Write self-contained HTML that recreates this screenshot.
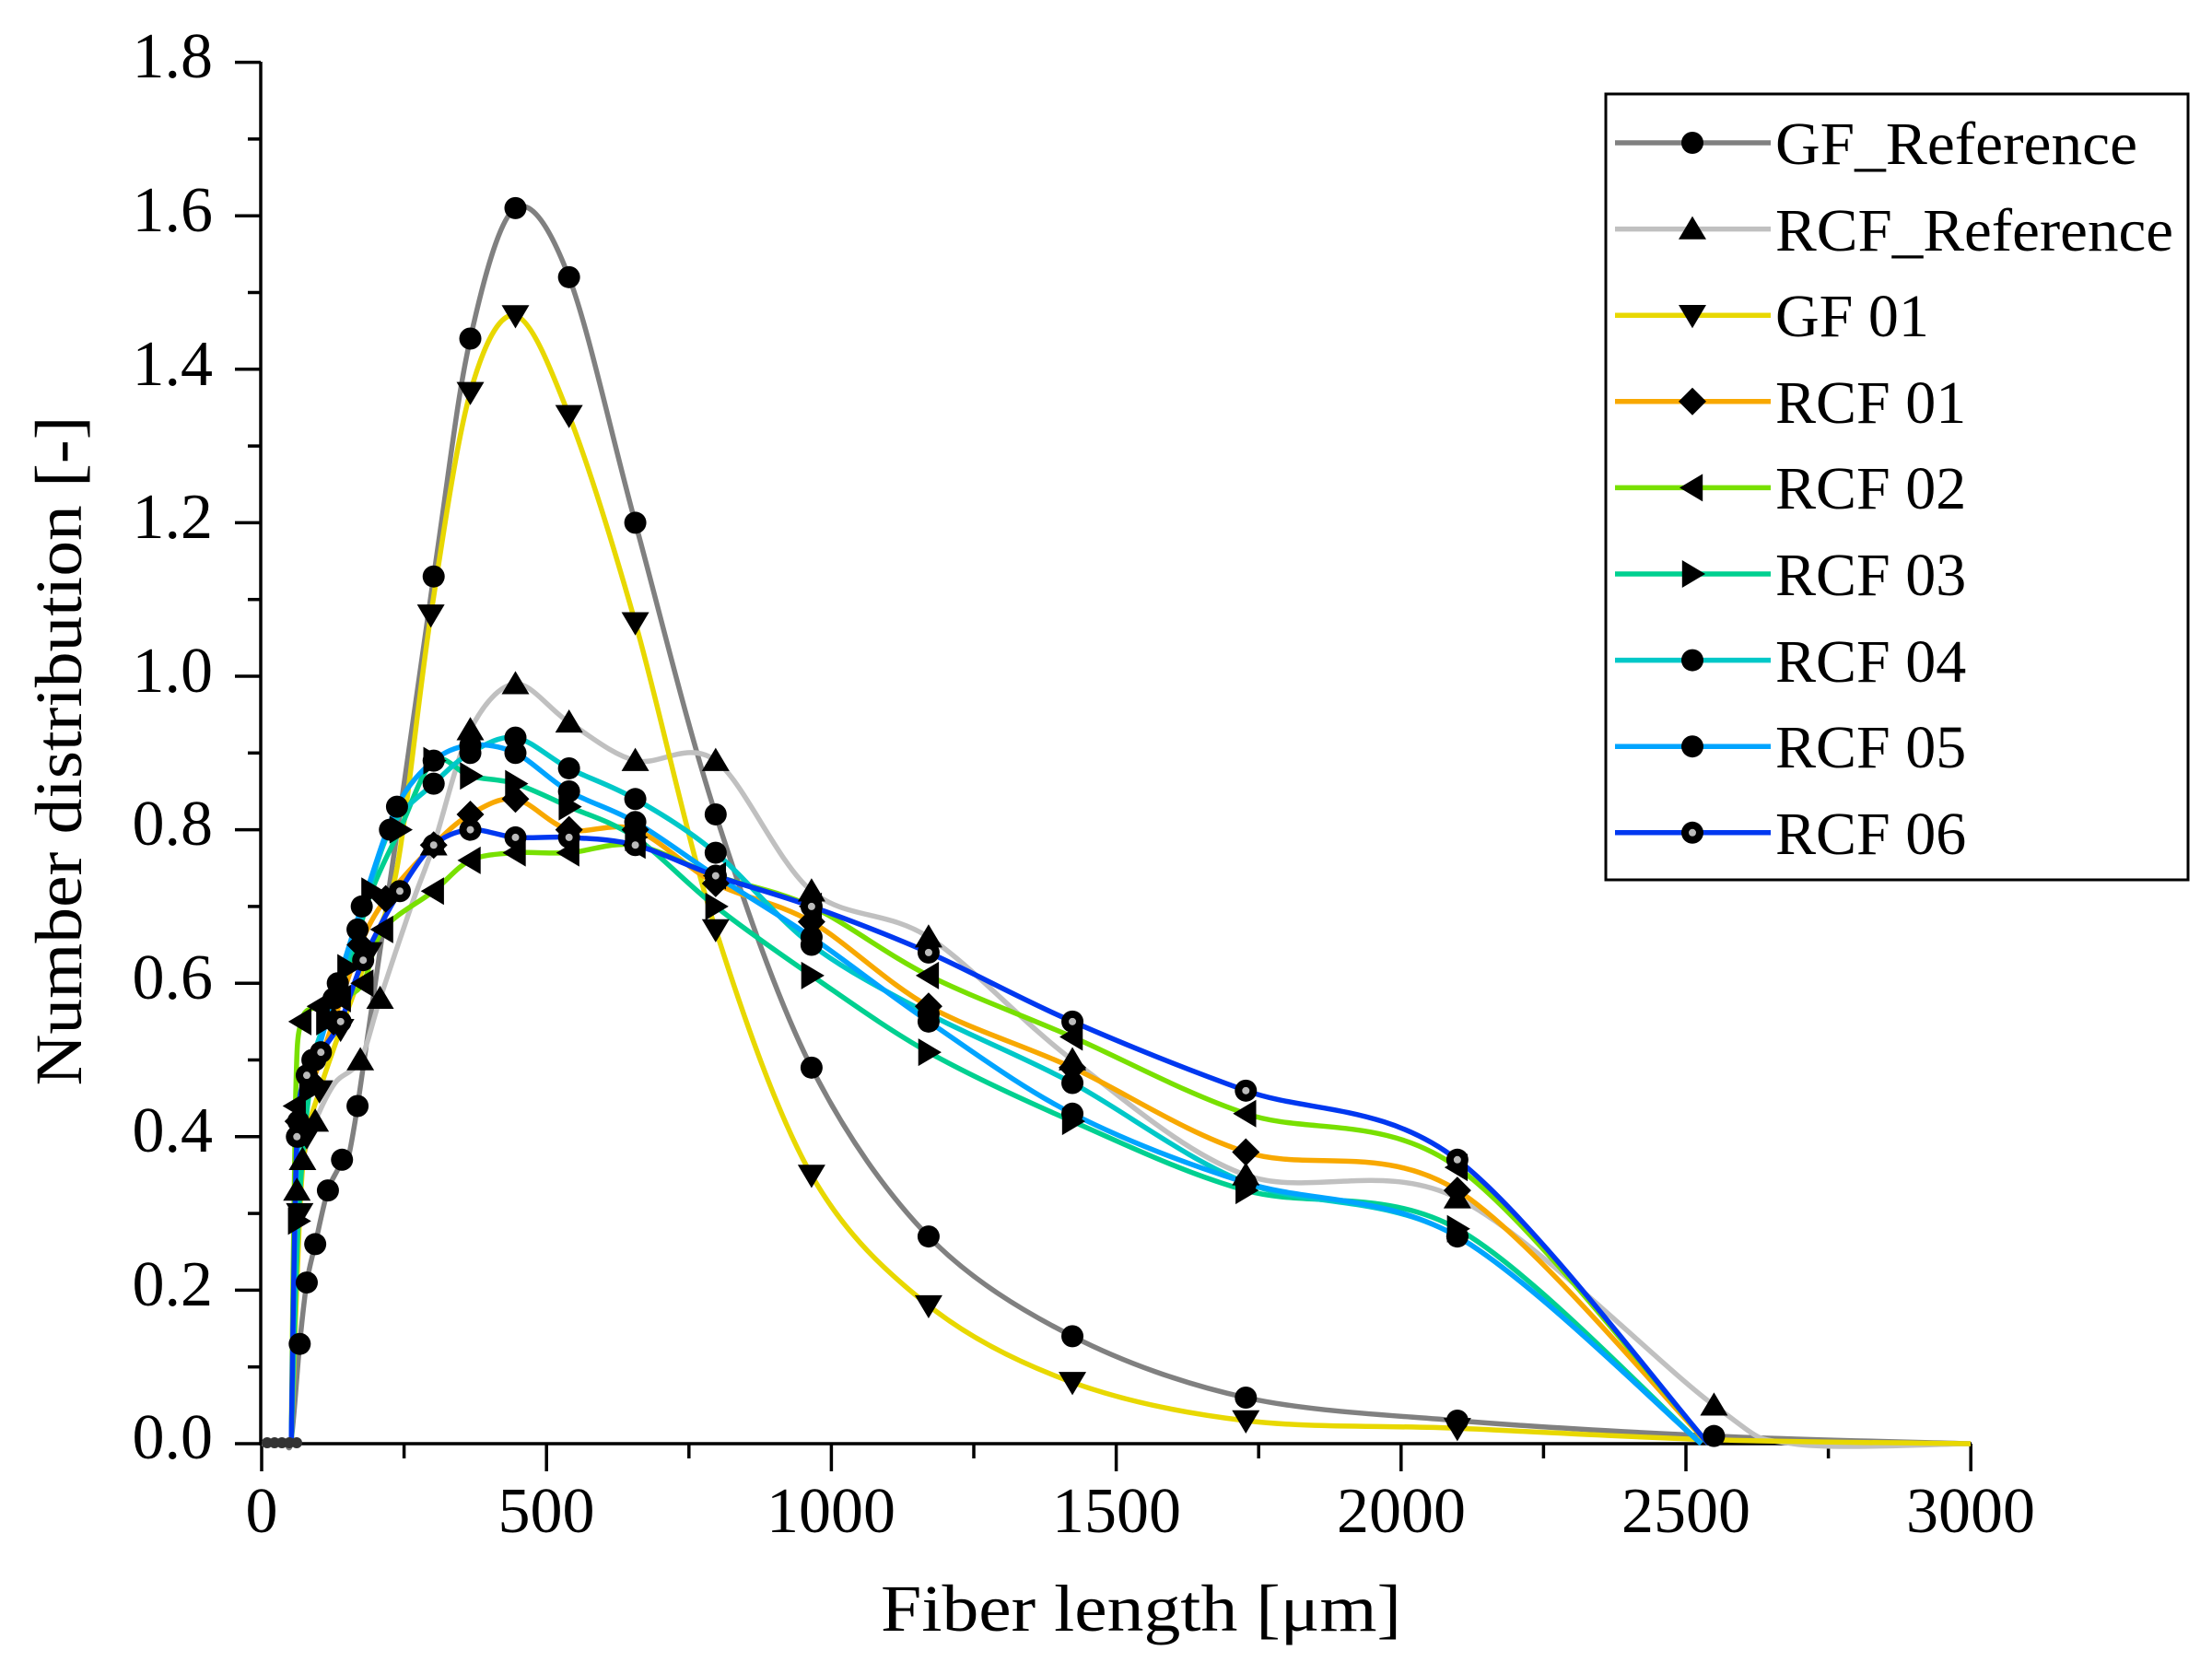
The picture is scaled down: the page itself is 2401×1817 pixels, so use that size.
<!DOCTYPE html>
<html><head><meta charset="utf-8">
<style>
html,body{margin:0;padding:0;background:#fff;}
svg{display:block;}
text{font-family:"Liberation Serif",serif;fill:#000;}
</style></head>
<body>
<svg id="s" width="2401" height="1817" viewBox="0 0 2401 1817" xmlns="http://www.w3.org/2000/svg">
<rect width="2401" height="1817" fill="#fff"/>
<g id="axes" stroke="#000" stroke-width="3.5" fill="none">
<line x1="283" y1="67" x2="283" y2="1567"/>
<line x1="281" y1="1567" x2="2140" y2="1567"/>
</g>
<g id="ticks" stroke="#000" stroke-width="3.5"></g>
<g id="series"></g>
<g font-size="70" text-anchor="end">
<text x="231" y="1583">0.0</text>
<text x="231" y="1417">0.2</text>
<text x="231" y="1250">0.4</text>
<text x="231" y="1084">0.6</text>
<text x="231" y="917">0.8</text>
<text x="231" y="751">1.0</text>
<text x="231" y="584">1.2</text>
<text x="231" y="418">1.4</text>
<text x="231" y="251">1.6</text>
<text x="231" y="84">1.8</text>
</g>
<g font-size="70" text-anchor="middle">
<text x="284" y="1663">0</text>
<text x="593" y="1663">500</text>
<text x="902" y="1663">1000</text>
<text x="1212" y="1663">1500</text>
<text x="1521" y="1663">2000</text>
<text x="1830" y="1663">2500</text>
<text x="2139" y="1663">3000</text>
</g>
<text x="956" y="1770" font-size="72" textLength="565" lengthAdjust="spacingAndGlyphs">Fiber length  [μm]</text>
<text transform="translate(88,815) rotate(-90)" font-size="72" text-anchor="middle" textLength="727" lengthAdjust="spacingAndGlyphs">Number distribution [-]</text>
<rect x="1743" y="102" width="632" height="853" fill="#fff" stroke="#000" stroke-width="3"/>
<g id="legend"></g>
<g font-size="66">
<text x="1927" y="178" textLength="393" lengthAdjust="spacingAndGlyphs">GF_Reference</text>
<text x="1927" y="272" textLength="432" lengthAdjust="spacingAndGlyphs">RCF_Reference</text>
<text x="1927" y="365">GF 01</text>
<text x="1927" y="459">RCF 01</text>
<text x="1927" y="552">RCF 02</text>
<text x="1927" y="646">RCF 03</text>
<text x="1927" y="740">RCF 04</text>
<text x="1927" y="833">RCF 05</text>
<text x="1927" y="927">RCF 06</text>
</g>
</svg>
<script>
(function(){
var NS="http://www.w3.org/2000/svg";
function el(t,a,p){var e=document.createElementNS(NS,t);for(var k in a)e.setAttribute(k,a[k]);p.appendChild(e);return e;}
var tk=document.getElementById("ticks");
for(var i=0;i<=18;i++){var y=1567-i*83.3;var L=(i%2==0)?28:14;el("line",{x1:283-L,y1:y,x2:283,y2:y},tk);}
for(var i=0;i<=12;i++){var x=284+i*154.6;var L=(i%2==0)?30:16;el("line",{x1:x,y1:1567,x2:x,y2:1567+L},tk);}
function X(xd){return 284+(xd-184)*1.5305;}
function Y(v){return 1567-v*833;}
var S=[
{c:"#808080",m:"c",p:[[184,0],[200,0],[205,0.005],[211,0.13],[216,0.21],[222,0.26],[231,0.33],[241,0.37],[252,0.44],[306,1.13],[332,1.44],[364,1.61],[402,1.52],[449,1.2],[506,0.82],[574,0.49],[657,0.27],[759,0.14],[882,0.06],[1032,0.03],[1214,0.01],[1396,0.0]],mk:[3,4,5,6,7,8,9,10,11,12,13,14,15,16,17,18,19,20]},
{c:"#c0c0c0",m:"t",p:[[205,0],[209,0.33],[213,0.37],[222,0.42],[236,0.47],[254,0.5],[268,0.58],[290,0.7],[306,0.78],[332,0.93],[364,0.99],[402,0.94],[449,0.89],[506,0.89],[574,0.72],[657,0.66],[759,0.5],[882,0.35],[1032,0.32],[1214,0.05],[1270,0.0],[1396,0.0]],mk:[1,2,3,5,6,8,9,10,11,12,13,14,15,16,17,18,19]},
{c:"#e8d800",m:"v",p:[[205,0],[211,0.3],[216,0.4],[225,0.46],[240,0.54],[260,0.64],[280,0.75],[304,1.08],[332,1.37],[364,1.47],[402,1.34],[449,1.07],[506,0.67],[574,0.35],[657,0.18],[759,0.08],[882,0.03],[1032,0.02],[1214,0.005],[1396,0.0]],mk:[1,2,3,4,5,7,8,9,10,11,12,13,14,15,16,17]},
{c:"#f8a800",m:"d",p:[[205,0],[210,0.42],[220,0.47],[235,0.55],[254,0.65],[272,0.71],[306,0.78],[332,0.82],[364,0.84],[402,0.8],[449,0.8],[506,0.73],[574,0.68],[657,0.57],[759,0.49],[882,0.38],[1032,0.33],[1210,0.0]],mk:[1,2,3,4,5,6,7,8,9,10,11,12,13,14,15,16]},
{c:"#78e000",m:"l",p:[[205,0],[208,0.44],[212,0.55],[225,0.57],[240,0.58],[256,0.6],[270,0.67],[306,0.72],[332,0.76],[364,0.77],[402,0.77],[449,0.78],[506,0.74],[574,0.7],[657,0.61],[759,0.53],[882,0.43],[1032,0.36],[1210,0.0]],mk:[1,2,3,4,5,6,7,8,9,10,11,12,13,14,15,16,17]},
{c:"#00d090",m:"r",p:[[205,0],[210,0.29],[218,0.46],[230,0.55],[245,0.62],[262,0.72],[282,0.8],[306,0.89],[332,0.87],[364,0.86],[402,0.83],[449,0.79],[506,0.7],[574,0.61],[657,0.51],[759,0.42],[882,0.33],[1032,0.28],[1205,0.0]],mk:[1,2,3,4,5,6,7,8,9,10,11,12,13,14,15,16,17]},
{c:"#00c8c8",m:"c",p:[[205,0],[210,0.4],[220,0.5],[235,0.58],[252,0.67],[275,0.8],[306,0.86],[332,0.9],[364,0.92],[402,0.88],[449,0.84],[506,0.77],[574,0.65],[657,0.56],[759,0.47],[882,0.34],[1032,0.27],[1205,0.0]],mk:[1,2,3,4,5,6,7,8,9,10,11,12,13,14,15,16]},
{c:"#00a4ff",m:"c",p:[[205,0],[210,0.42],[222,0.5],[238,0.6],[255,0.7],[280,0.83],[306,0.89],[332,0.91],[364,0.9],[402,0.85],[449,0.81],[506,0.74],[574,0.66],[657,0.55],[759,0.43],[882,0.34],[1032,0.27],[1205,0.0]],mk:[1,2,3,4,5,6,7,8,9,10,11,12,13,14,15,16]},
{c:"#0038f0",m:"g",p:[[205,0],[209,0.4],[216,0.48],[226,0.51],[240,0.55],[256,0.63],[282,0.72],[306,0.78],[332,0.8],[364,0.79],[402,0.79],[449,0.78],[506,0.74],[574,0.7],[657,0.64],[759,0.55],[882,0.46],[1032,0.37],[1210,0.0]],mk:[1,2,3,4,5,6,7,8,9,10,11,12,13,14,15,16,17]}
];
function path(pts){
var d="M"+pts[0][0]+","+pts[0][1];
for(var i=0;i<pts.length-1;i++){
var p0=pts[Math.max(0,i-1)],p1=pts[i],p2=pts[i+1],p3=pts[Math.min(pts.length-1,i+2)];
var t=0.16;
var c1x=p1[0]+(p2[0]-p0[0])*t,c1y=p1[1]+(p2[1]-p0[1])*t;
var c2x=p2[0]-(p3[0]-p1[0])*t,c2y=p2[1]-(p3[1]-p1[1])*t;
d+="C"+c1x.toFixed(1)+","+c1y.toFixed(1)+" "+c2x.toFixed(1)+","+c2y.toFixed(1)+" "+p2[0].toFixed(1)+","+p2[1].toFixed(1);}
return d;}
function marker(m,x,y,g){
var r=14;
if(m=="c"){el("circle",{cx:x,cy:y,r:12,fill:"#000"},g);}
else if(m=="g"){el("circle",{cx:x,cy:y,r:12,fill:"#000"},g);el("circle",{cx:x,cy:y,r:4,fill:"#bbb"},g);}
else if(m=="t"){el("polygon",{points:(x)+","+(y-r)+" "+(x+r+1)+","+(y+r*0.8)+" "+(x-r-1)+","+(y+r*0.8),fill:"#000"},g);}
else if(m=="v"){el("polygon",{points:(x)+","+(y+r)+" "+(x+r+1)+","+(y-r*0.8)+" "+(x-r-1)+","+(y-r*0.8),fill:"#000"},g);}
else if(m=="d"){el("polygon",{points:x+","+(y-r-1)+" "+(x+r+1)+","+y+" "+x+","+(y+r+1)+" "+(x-r-1)+","+y,fill:"#000"},g);}
else if(m=="l"){el("polygon",{points:(x-r)+","+y+" "+(x+r*0.8)+","+(y-r-1)+" "+(x+r*0.8)+","+(y+r+1),fill:"#000"},g);}
else if(m=="r"){el("polygon",{points:(x+r)+","+y+" "+(x-r*0.8)+","+(y-r-1)+" "+(x-r*0.8)+","+(y+r+1),fill:"#000"},g);}
}
var sg=document.getElementById("series"),lg=document.getElementById("legend");
S.forEach(function(s){
var pts=s.p.map(function(q){return [X(q[0]),Y(q[1])];});
el("path",{d:path(pts),fill:"none",stroke:s.c,"stroke-width":5.5,"stroke-linejoin":"round"},sg);
});
S.forEach(function(s){
s.mk.forEach(function(i){if(s.p[i])marker(s.m,X(s.p[i][0]),Y(s.p[i][1]),sg);});
});
for(var k=0;k<5;k++)el("circle",{cx:290+k*8,cy:1566,r:6,fill:"#333"},sg);
S.forEach(function(s,i){
var y=155+i*93.6;
el("line",{x1:1753,y1:y,x2:1922,y2:y,stroke:s.c,"stroke-width":5.5},lg);
marker(s.m,1837,y,lg);
});
})();
</script>
</body></html>
